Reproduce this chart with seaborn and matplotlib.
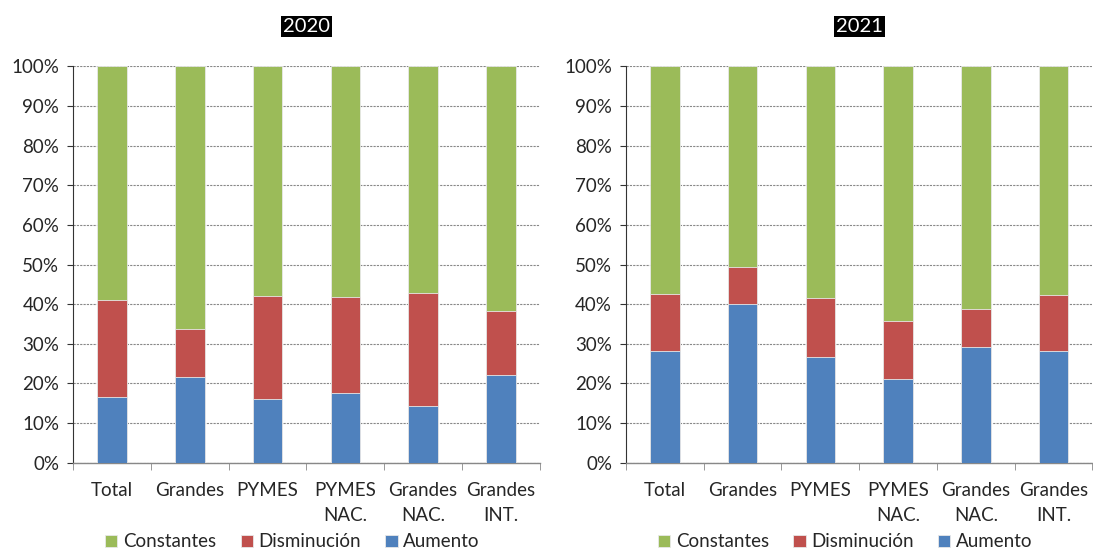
import pandas as pd
import seaborn as sns
import matplotlib.pyplot as plt
import numpy as np
from matplotlib.ticker import PercentFormatter, FixedLocator

sns.set_style('white')
plt.rcParams['font.family'] = ['Lato', 'DejaVu Sans']
plt.rcParams['font.size'] = 13.5

categories = ['Total', 'Grandes', 'PYMES', 'PYMES\nNAC.', 'Grandes\nNAC.', 'Grandes\nINT.']
years = ['2020', '2021']

# shares in % (Constantes = remainder to 100)
aumento = {
    '2020': [16.5, 21.6, 16.0, 17.6, 14.2, 22.0],
    '2021': [28.2, 40.1, 26.6, 21.2, 29.1, 28.2],
}
disminucion = {
    '2020': [24.6, 12.2, 26.1, 24.3, 28.5, 16.3],
    '2021': [14.4, 9.3, 15.0, 14.6, 9.7, 14.1],
}

col_const = '#9BBB59'
col_dism = '#C0504D'
col_aum = '#4F81BD'

fig, axes = plt.subplots(1, 2, figsize=(10.93, 5.54), dpi=100)
fig.subplots_adjust(left=0.067, right=0.9995, top=0.88, bottom=0.165, wspace=0.185)

for ax, yr in zip(axes, years):
    a = np.array(aumento[yr])
    d = np.array(disminucion[yr])
    df = pd.DataFrame({'cat': categories, 'aum': a, 'dism': a + d,
                       'const': np.full(len(a), 100.0)})
    for col, c, lab in [('const', col_const, 'Constantes'),
                        ('dism', col_dism, 'Disminución'),
                        ('aum', col_aum, 'Aumento')]:
        sns.barplot(data=df, x='cat', y=col, color=c, width=0.38, ax=ax,
                    saturation=1, edgecolor='#e8e8e8', linewidth=0.6,
                    label=lab, zorder=3)
    ax.set_ylim(0, 100)
    ax.set_xlim(-0.5, len(categories) - 0.5)
    ax.set_yticks(np.arange(0, 101, 10))
    ax.yaxis.set_major_formatter(PercentFormatter(decimals=0))
    ax.grid(axis='y', linestyle=(0, (2, 1)), color='#888888', linewidth=0.8, zorder=0)
    ax.set_xlabel('')
    ax.set_ylabel('')
    for s in ['top', 'right']:
        ax.spines[s].set_visible(False)
    ax.spines['left'].set_linestyle((0, (2, 1)))
    ax.spines['left'].set_color('#333333')
    ax.spines['left'].set_linewidth(0.8)
    ax.spines['bottom'].set_color('#888888')
    ax.spines['bottom'].set_linewidth(1.0)
    ax.tick_params(axis='y', length=4, direction='out', color='#333333', left=True, pad=6)
    ax.tick_params(axis='x', length=0, pad=14)
    for t in ax.get_xticklabels():
        t.set_linespacing(1.55)
    ax.xaxis.set_minor_locator(FixedLocator(np.arange(-0.5, len(categories), 1)))
    ax.tick_params(axis='x', which='minor', length=5, color='#888888', bottom=True)
    ax.set_title(yr, fontsize=14.5, color='white', pad=25,
                 bbox=dict(facecolor='black', edgecolor='none', pad=1.5))
    handles, labels = ax.get_legend_handles_labels()
    ax.legend(handles, labels, loc='upper center', bbox_to_anchor=(0.47, -0.16),
              ncol=3, frameon=False, handlelength=0.65, handleheight=0.65,
              handletextpad=0.3, columnspacing=1.3, fontsize=13.5,
              borderaxespad=0)

plt.savefig('out.png', dpi=100)
